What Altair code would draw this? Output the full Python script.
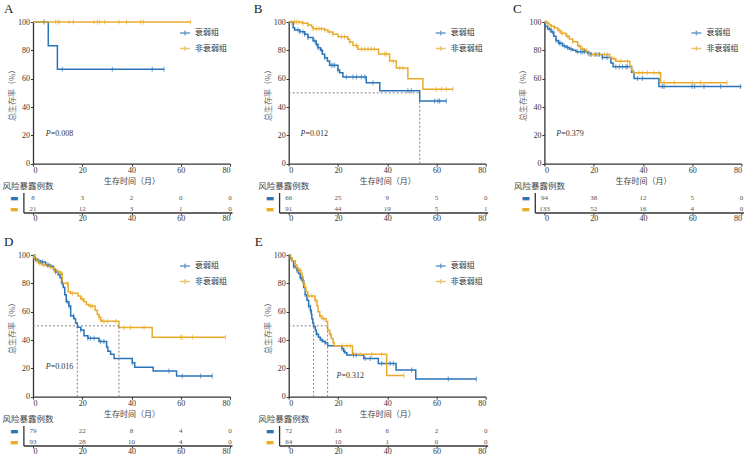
import altair as alt
import pandas as pd

BLUE = "#2a74b8"
ORANGE = "#e9ab2b"
FRAIL = "衰弱组"
NONFRAIL = "非衰弱组"
GROUPS = [FRAIL, NONFRAIL]
NUM_FONT = "Liberation Serif, Noto Sans CJK SC"
CJK_FONT = "Noto Sans CJK SC, Liberation Serif"
TICKS = [0, 20, 40, 60, 80]

# ---------------- Panel A ----------------
a_frail_t = [0, 6.2, 9.9, 53.2]
a_frail_s = [100, 83.3, 66.7, 66.7]
a_frail_cens = [4.5, 11.9, 32.2, 48.4, 53.2]
a_non_t = [0, 64.0]
a_non_s = [100, 100]
a_non_cens = [4.5, 9.2, 10.1, 10.7, 14.6, 16.4, 24.8, 26.1, 27.1, 29.1, 34.9, 38.0,
              43.7, 44.8, 64.0]
a_risk_frail = [8, 3, 2, 0, 0]
a_risk_non = [21, 12, 3, 1, 0]
a_p = "0.008"
a_medians = []

# ---------------- Panel B ----------------
b_frail_t = [0, 1.8, 2.4, 4.5, 6.5, 7.8, 9.9, 11.2, 11.9, 12.9, 13.7, 14.6, 15.7, 16.6,
             20.0, 20.7, 22.0, 31.5, 37.0, 53.2, 64.0]
b_frail_s = [100, 96, 94.3, 93.2, 91.3, 89, 86.6, 84.3, 81.9, 80, 77.2, 74.8, 72.5, 69.4,
             66.1, 64.2, 61.2, 57.2, 51.5, 44.2, 44.2]
b_frail_cens = [3.8, 4.5, 5.8, 6.5, 7.8, 10.6, 11.2, 11.9, 13.3, 14.6, 17.3, 18.0, 18.7,
                20.0, 23.4, 26.1, 27.5, 29.5, 30.9, 34.2, 48.4, 49.8, 59.3, 60.6, 61.3, 64.0]
b_non_t = [0, 5.5, 7.8, 9.3, 9.9, 14.6, 15.9, 17.9, 20.0, 24.0, 24.7, 26.1, 28.1, 36.5,
           41.0, 43.7, 48.4, 54.5, 66.7]
b_non_s = [100, 99.1, 97.9, 96.7, 95.3, 94.4, 93.0, 91.3, 89.6, 87.8, 85.9, 83.5, 80.8,
           77.4, 72.5, 67.6, 60.0, 52.5, 52.5]
b_non_cens = [1.1, 2.4, 3.1, 4.2, 5.8, 7.8, 9.9, 11.2, 12.3, 13.3, 14.6, 16.6, 18.0, 21.4,
              22.7, 24.8, 27.5, 29.5, 30.9, 32.2, 33.6, 34.9, 39.0, 39.6, 42.4, 45.1, 46.4,
              60.0, 62.0, 64.0, 66.7]
b_risk_frail = [66, 25, 9, 5, 0]
b_risk_non = [91, 44, 19, 5, 1]
b_p = "0.012"
b_medians = [53.2]

# ---------------- Panel C ----------------
c_frail_t = [0, 0.3, 1.3, 2.7, 3.8, 4.7, 5.7, 7.4, 8.8, 10.1, 11.5, 12.8, 17.5, 18.9, 23.5,
             27.0, 27.9, 35.4, 36.4, 46.5, 80.0]
c_frail_s = [100, 97, 95, 93, 90, 87, 85, 83, 82, 81, 80, 79, 78, 77, 75, 71, 68.5, 64.5,
             60.2, 54.5, 54.5]
c_frail_cens = [0.4, 2.0, 3.4, 4.7, 6.1, 6.7, 8.1, 9.4, 10.8, 13.5, 14.8, 15.5, 16.2, 17.8,
                18.9, 20.9, 22.3, 23.6, 25.4, 29.0, 30.4, 31.7, 33.1, 33.7, 37.8, 39.8,
                47.9, 48.6, 60.0, 61.0, 64.8, 71.6, 79.6]
c_non_t = [0, 1.3, 2.0, 2.7, 4.0, 5.4, 6.7, 8.8, 10.1, 11.5, 13.5, 14.8, 16.2, 17.3, 18.2,
           26.5, 27.5, 29.0, 34.7, 35.4, 36.1, 47.2, 74.2]
c_non_s = [100, 99, 98, 97, 96, 94, 92, 90, 88, 86, 83, 81, 80, 79, 77, 75, 74, 72.3, 69,
           66, 64.2, 57.2, 57.2]
c_non_cens = [0.7, 1.3, 2.7, 4.0, 6.1, 7.4, 9.4, 11.5, 14.2, 15.5, 16.9, 18.2, 20.2, 21.6,
              24.3, 25.6, 28.3, 31.0, 33.7, 38.4, 39.8, 41.8, 44.5, 46.6, 48.6, 52.7, 60.0,
              63.4, 74.2]
c_risk_frail = [94, 38, 12, 5, 0]
c_risk_non = [133, 52, 16, 4, 0]
c_p = "0.379"
c_medians = []

# ---------------- Panel D ----------------
d_frail_t = [0, 0.7, 1.8, 3.1, 5.1, 7.2, 8.3, 9.2, 10.2, 11.0, 11.6, 12.3, 12.9, 13.5,
             14.6, 15.3, 16.6, 17.3, 18.0, 19.4, 20.7, 22.3, 26.8, 29.9, 30.4, 31.5, 32.9,
             40.3, 41.3, 48.8, 58.3, 72.8]
d_frail_s = [100, 97, 96, 95, 93, 92, 90, 88, 86, 84, 80, 77, 72, 67, 64, 57, 55, 52, 49,
             47, 43, 41.2, 39, 35, 32, 30, 27, 24, 20.7, 18.1, 14.6, 14.6]
d_frail_cens = [1.1, 2.4, 3.8, 5.8, 6.5, 9.2, 11.9, 13.9, 14.6, 16.4, 19.4, 22.3, 23.4,
                24.8, 27.5, 28.8, 40.3, 55.2, 60.6, 68.1, 72.8]
d_non_t = [0, 0.4, 1.1, 2.4, 3.8, 5.8, 7.2, 8.5, 9.9, 11.2, 11.9, 14.3, 15.2, 18.3, 19.4,
           20.7, 21.7, 22.7, 25.2, 26.1, 26.8, 27.5, 28.0, 34.9, 48.4, 78.2]
d_non_s = [100, 98, 96, 94, 93, 92, 91, 89, 88, 87, 80, 74, 73, 71, 69, 67, 65, 64, 61, 58,
           56, 54, 53.2, 48.9, 41.9, 41.9]
d_non_cens = [0.4, 1.5, 2.8, 4.5, 6.9, 8.5, 10.6, 11.6, 13.9, 16.0, 20.0, 23.4, 24.1, 26.8,
              27.5, 28.8, 30.2, 33.6, 36.9, 39.6, 45.1, 60.0, 60.6, 64.7, 78.2]
d_risk_frail = [79, 22, 8, 4, 0]
d_risk_non = [93, 28, 10, 4, 0]
d_p = "0.016"
d_medians = [18.0, 34.9]

# ---------------- Panel E ----------------
e_frail_t = [0, 0.7, 1.3, 2.0, 2.7, 3.4, 4.0, 4.7, 5.4, 6.1, 6.7, 7.4, 8.1, 8.8, 9.2, 9.4,
             9.8, 10.1, 10.8, 11.2, 12.1, 12.8, 13.8, 14.8, 15.8, 21.6, 22.3, 22.9, 23.6,
             30.5, 36.4, 43.6, 51.6, 76.2]
e_frail_s = [100, 98, 96, 92, 91, 89, 87, 84, 82, 77, 72, 68, 64, 61, 58, 55, 52, 49.5, 47,
             44, 42, 40, 39, 38, 36, 34, 32, 31, 29.4, 27, 23.5, 18.8, 12.5, 12.5]
e_frail_cens = [0.7, 2.0, 3.4, 4.7, 5.8, 6.7, 8.1, 8.8, 11.5, 13.5, 14.8, 21.6, 22.5, 26.3,
                27.4, 31.0, 33.1, 37.8, 41.2, 42.5, 49.9, 64.8, 76.2]
e_non_t = [0, 0.7, 1.3, 2.7, 3.4, 4.5, 5.0, 5.4, 5.8, 6.5, 7.0, 7.7, 10.7, 11.5, 11.9, 12.6,
           13.5, 15.2, 15.8, 16.6, 17.3, 18.0, 18.5, 25.9, 39.8, 46.8]
e_non_s = [100, 98, 96, 93, 90, 89, 87, 85, 80, 77, 74, 71, 68, 64, 60, 57, 55, 53, 47, 44,
           41, 38, 36, 30, 15, 15]
e_non_cens = [0.7, 2.7, 4.0, 4.7, 6.1, 8.1, 9.4, 10.8, 12.8, 14.2, 16.9, 21.6, 23.6, 25.0,
              29.0, 33.7, 37.8, 46.8]
e_risk_frail = [72, 18, 6, 2, 0]
e_risk_non = [64, 10, 1, 0, 0]
e_p = "0.312"
e_medians = [10.1, 15.8]

# P-value label anchor (months, percent) for each panel
p_pos = {"A": (5.2, 21.2), "B": (4.8, 21.2), "C": (4.8, 21.2), "D": (5.2, 21.2), "E": (19.4, 14.6)}
# horizontal shift of each panel letter from the plot's left edge (px)
letter_dx = {"A": -29, "B": -35, "C": -31.5, "D": -29, "E": -34}

PLOT_W = 197
KM_H = 141.7
RISK_H = 32.3
RISK_AXIS_FROM_TOP = 20.0
RISK_UNIT = 11.0  # px per row unit in the risk table
RISK_Y_LO = -(RISK_H - RISK_AXIS_FROM_TOP) / RISK_UNIT
RISK_Y_HI = RISK_AXIS_FROM_TOP / RISK_UNIT
RISK_X_LEFT = -3.7
RISK_X_RIGHT = 81.0
ROW_POS = {FRAIL: 1.4, NONFRAIL: 0.4}

color_scale = alt.Scale(domain=GROUPS, range=[BLUE, ORANGE])
x_scale = alt.Scale(domain=[0, 80], nice=False)
y_scale = alt.Scale(domain=[0, 100], nice=False)

km_legend = alt.Legend(
    title=None, orient="none", legendX=146, legendY=5,
    symbolType="M-1,0H1M0,-0.45V0.45", symbolSize=100, symbolStrokeWidth=1.5,
    labelFont=CJK_FONT, labelFontSize=8, labelColor="#333", labelOffset=4,
    rowPadding=3.5, padding=0,
)
km_x_axis = alt.Axis(
    values=TICKS, title="生存时间（月）", titleFont=CJK_FONT, titleFontSize=8,
    titleFontWeight="normal", titleColor="#444", titleY=18, titleBaseline="middle",
    labelFont=NUM_FONT, labelFontSize=8, labelColor="#333", labelPadding=0,
    tickSize=2.5, tickColor="#333", domainColor="#333", domainWidth=1.3, grid=False,
)
km_y_axis = alt.Axis(
    values=[0, 20, 40, 60, 80, 100], title="总生存率（%）", titleFont=CJK_FONT,
    titleFontSize=8, titleFontWeight="normal", titleColor="#666",
    titleX=-20.5, titleY=KM_H / 2, titleAngle=270, titleAlign="center",
    titleBaseline="middle",
    labelFont=NUM_FONT, labelFontSize=8, labelColor="#333", labelPadding=1,
    tickSize=2.5, tickColor="#333", domainColor="#333", domainWidth=1.3, grid=False,
)
risk_x_axis = alt.Axis(
    values=TICKS, title=None, domain=False, offset=-(RISK_H - RISK_AXIS_FROM_TOP),
    tickSize=2, tickColor="#333", labelFont=NUM_FONT, labelFontSize=8,
    labelColor="#333", labelPadding=-1, grid=False,
)
risk_y_axis = alt.Axis(
    values=[ROW_POS[NONFRAIL], ROW_POS[FRAIL]], labelExpr="'▬'",
    labelFont="DejaVu Sans", labelFontSize=9,
    labelColor={"condition": {"test": "datum.value > 1", "value": BLUE}, "value": ORANGE},
    domain=False, ticks=False, tickSize=0, labelPadding=15, grid=False, title=None,
)


def surv_at(t_list, s_list, c):
    val = s_list[0]
    for ti, si in zip(t_list, s_list):
        if ti <= c:
            val = si
    return val


def km_x(field):
    return alt.X(field, scale=x_scale, axis=km_x_axis)


def km_y(field):
    return alt.Y(field, scale=y_scale, axis=km_y_axis)


def km_chart(letter, frail_t, frail_s, frail_c, non_t, non_s, non_c, p_val, medians):
    curves = pd.concat([
        pd.DataFrame({"t": frail_t, "s": frail_s, "g": FRAIL}),
        pd.DataFrame({"t": non_t, "s": non_s, "g": NONFRAIL}),
    ])
    cens = pd.concat([
        pd.DataFrame({"t": frail_c, "s": [surv_at(frail_t, frail_s, c) for c in frail_c], "g": FRAIL}),
        pd.DataFrame({"t": non_c, "s": [surv_at(non_t, non_s, c) for c in non_c], "g": NONFRAIL}),
    ])

    line = alt.Chart(curves).mark_line(interpolate="step-after", strokeWidth=1.5).encode(
        x=km_x("t:Q"), y=km_y("s:Q"),
        color=alt.Color("g:N", scale=color_scale, legend=km_legend),
    )
    ticks = alt.Chart(cens).mark_tick(orient="vertical", size=5, thickness=1).encode(
        x=km_x("t:Q"), y=km_y("s:Q"),
        color=alt.Color("g:N", scale=color_scale, legend=km_legend),
    )
    layers = [line, ticks]
    if medians:
        rows = [{"x": 0, "x2": max(medians), "y": 50, "y2": 50}]
        rows += [{"x": m, "x2": m, "y": 0, "y2": 50} for m in medians]
        med = alt.Chart(pd.DataFrame(rows)).mark_rule(
            color="#777", strokeWidth=0.9, strokeDash=[2, 2]
        ).encode(x=km_x("x:Q"), x2="x2:Q", y=km_y("y:Q"), y2="y2:Q")
        layers.append(med)

    px, py = p_pos[letter]
    pdf = pd.DataFrame({"x": [px], "y": [py], "v": ["=" + p_val]})
    p_letter = alt.Chart(pdf).mark_text(
        text="P", align="left", baseline="middle", font=NUM_FONT, fontSize=8,
        fontStyle="italic", color="#333",
    ).encode(x=km_x("x:Q"), y=km_y("y:Q"))
    p_value = alt.Chart(pdf).mark_text(
        align="left", baseline="middle", font=NUM_FONT, fontSize=8, color="#333", dx=5,
    ).encode(x=km_x("x:Q"), y=km_y("y:Q"), text="v:N")
    layers += [p_letter, p_value]

    return alt.layer(*layers).properties(
        width=PLOT_W, height=KM_H,
        title=alt.TitleParams(
            text=letter, anchor="start", frame="group", dx=letter_dx[letter], dy=12.5,
            fontSize=13, font="Liberation Serif", fontWeight="normal", color="#222",
            baseline="alphabetic", offset=5,
        ),
    )


def risk_chart(frail_n, non_n):
    df = pd.DataFrame({
        "t": TICKS * 2,
        "n": list(frail_n) + list(non_n),
        "g": [FRAIL] * len(TICKS) + [NONFRAIL] * len(TICKS),
    })
    df["row"] = df["g"].map(ROW_POS)
    frame = pd.DataFrame({
        "x": [RISK_X_LEFT, RISK_X_LEFT], "x2": [RISK_X_RIGHT, RISK_X_LEFT],
        "y": [0.0, 0.0], "y2": [0.0, RISK_Y_HI],
    })
    rx = alt.Scale(domain=[0, 80], nice=False)
    ry = alt.Scale(domain=[RISK_Y_LO, RISK_Y_HI], nice=False, zero=False)
    numbers = alt.Chart(df).mark_text(
        font=NUM_FONT, fontSize=7, color="#555", baseline="middle"
    ).encode(
        x=alt.X("t:Q", scale=rx, axis=risk_x_axis),
        y=alt.Y("row:Q", scale=ry, axis=risk_y_axis),
        text="n:Q",
    )
    lines = alt.Chart(frame).mark_rule(color="#333", strokeWidth=1.3).encode(
        x=alt.X("x:Q", scale=rx, axis=risk_x_axis), x2="x2:Q",
        y=alt.Y("y:Q", scale=ry, axis=risk_y_axis), y2="y2:Q",
    )
    return alt.layer(numbers, lines).properties(
        width=PLOT_W, height=RISK_H,
        title=alt.TitleParams(
            text="风险暴露例数", anchor="start", frame="group", dx=-30.5, dy=10.5,
            fontSize=8.5, font=CJK_FONT, fontWeight="normal", color="#444",
            baseline="alphabetic", offset=5,
        ),
    )


blank = alt.Chart(pd.DataFrame({"v": [0]})).mark_point(opacity=0).encode(
    x=alt.X("v:Q", axis=None), y=alt.Y("v:Q", axis=None)
).properties(width=1, height=1)

cells = [
    km_chart("A", a_frail_t, a_frail_s, a_frail_cens, a_non_t, a_non_s, a_non_cens, a_p, a_medians),
    km_chart("B", b_frail_t, b_frail_s, b_frail_cens, b_non_t, b_non_s, b_non_cens, b_p, b_medians),
    km_chart("C", c_frail_t, c_frail_s, c_frail_cens, c_non_t, c_non_s, c_non_cens, c_p, c_medians),
    risk_chart(a_risk_frail, a_risk_non),
    risk_chart(b_risk_frail, b_risk_non),
    risk_chart(c_risk_frail, c_risk_non),
    km_chart("D", d_frail_t, d_frail_s, d_frail_cens, d_non_t, d_non_s, d_non_cens, d_p, d_medians),
    km_chart("E", e_frail_t, e_frail_s, e_frail_cens, e_non_t, e_non_s, e_non_cens, e_p, e_medians),
    blank,
    risk_chart(d_risk_frail, d_risk_non),
    risk_chart(e_risk_frail, e_risk_non),
]

chart = alt.concat(
    *cells, columns=3, spacing={"row": 29, "column": 58.7}, bounds="flush"
).resolve_scale(
    x="independent", y="independent", color="independent"
).properties(
    padding={"left": 2, "top": 2, "right": 2, "bottom": 1},
    background="white",
).configure_view(stroke=None)

chart.save("out.html", embed_options={"renderer": "svg", "actions": False})
